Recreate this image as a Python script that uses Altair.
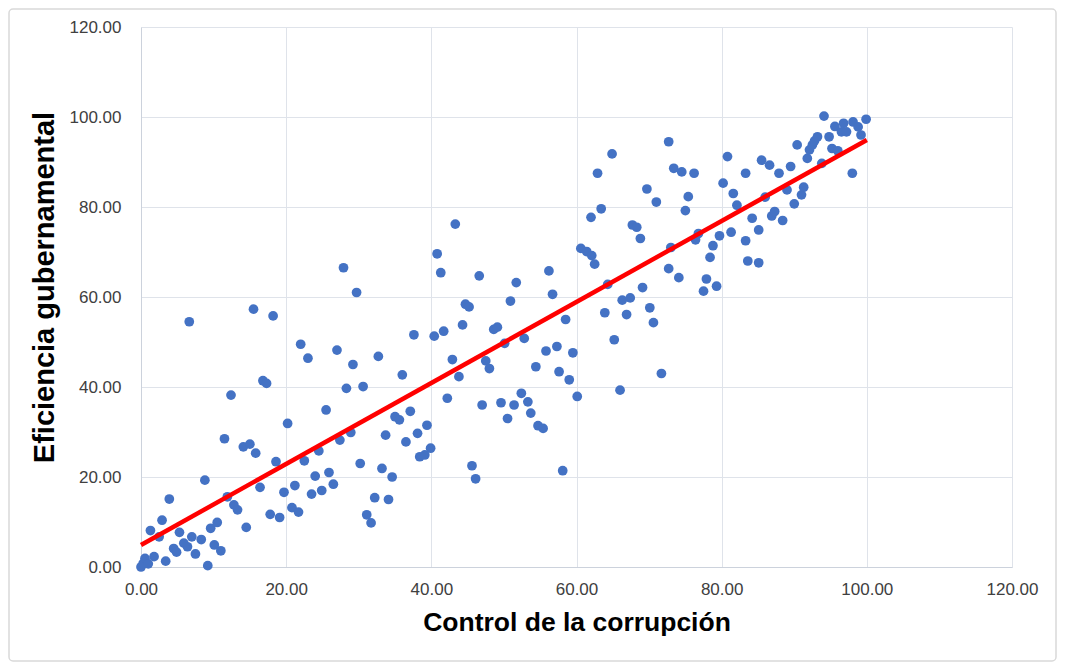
import altair as alt
import pandas as pd

# Control de la corrupción (x) and Eficiencia gubernamental (y)
x_vals = [
    0.0, 0.3, 0.55, 1.0, 1.8, 3.4, 1.3, 2.5, 2.9, 3.9, 4.5, 4.9, 5.3, 5.9, 6.4, 7.0, 7.5, 8.3, 8.8, 9.2,
    9.6, 10.5, 10.1, 11.0, 6.65, 11.5, 11.9, 12.4, 12.8, 13.3,
    14.1, 15.0, 14.5, 15.5, 15.8, 16.4, 16.8, 17.3, 17.8, 18.2, 18.6, 19.1, 19.7, 20.2, 20.8, 21.2, 21.7,
    22.0, 22.5, 23.0, 23.5, 24.0, 24.5, 24.9, 25.5, 25.9, 26.5,
    27.0, 27.4, 27.9, 28.3, 28.9, 29.2, 29.7, 30.2, 30.6, 31.1, 31.7, 32.2, 32.7, 33.2, 33.7, 34.1, 34.6,
    35.0, 35.6, 36.0, 36.5, 37.1, 37.6, 38.1, 38.4, 39.1, 39.4, 39.9, 40.4,
    40.8, 41.3, 41.7, 42.2, 42.9, 43.3, 43.8, 44.3, 44.7, 45.2, 45.6, 46.1, 46.6, 47.0, 47.5, 48.0, 48.6,
    49.1, 49.6, 50.1, 50.5, 50.9,
    51.4, 51.7, 52.4, 52.8, 53.3, 53.7, 54.4, 54.7, 55.4, 55.8, 56.2, 56.7, 57.3, 57.6, 58.1, 58.5, 59.0,
    59.5, 60.1, 60.6,
    61.4, 62.0, 62.1, 62.5, 62.9, 63.4, 63.9, 64.3, 64.9, 65.2, 66.0, 66.3, 66.9, 67.4, 67.7, 68.3, 68.8,
    69.1, 69.7, 70.1, 70.6,
    71.0, 71.7, 72.7, 72.7, 73.0, 73.4, 74.1, 74.5, 75.0, 75.4, 76.2, 76.4, 76.8, 77.5, 77.9, 78.4, 78.8,
    79.3, 79.7, 80.2,
    80.8, 81.3, 81.6, 82.1, 83.3, 83.3, 83.6, 84.2, 85.1, 85.1, 85.5, 86.0, 86.6, 86.9, 87.3, 87.9, 88.4,
    89.0, 89.5, 90.0,
    90.4, 91.0, 91.3, 91.8, 92.1, 92.5, 92.8, 93.2, 93.8, 94.1, 94.8, 95.2, 95.6, 96.0, 96.5, 96.8, 97.2,
    98.0, 98.1, 98.8, 99.2, 99.9,
]
y_vals = [
    0.0, 0.8, 1.9, 0.7, 2.3, 1.3, 8.1, 6.7, 10.4, 15.1, 4.1, 3.3, 7.7, 5.3, 4.5, 6.7, 2.9, 6.1, 19.3, 0.3,
    8.6, 9.9, 4.9, 3.6, 54.5, 28.5, 15.6, 38.2, 13.8, 12.7,
    26.7, 27.3, 8.8, 57.3, 25.3, 17.7, 41.4, 40.8, 11.7, 55.8, 23.4, 11.0, 16.6, 31.9, 13.2, 18.1, 12.2,
    49.5, 23.6, 46.4, 16.2, 20.2, 25.8, 17.0, 34.9, 21.0, 18.4,
    48.2, 28.2, 66.5, 39.7, 29.9, 45.0, 61.0, 23.0, 40.1, 11.6, 9.8, 15.4, 46.8, 21.9, 29.3, 15.0, 20.0,
    33.4, 32.7, 42.7, 27.8, 34.6, 51.6, 29.7, 24.5, 24.9, 31.5, 26.4, 51.3,
    69.6, 65.4, 52.4, 37.5, 46.1, 76.2, 42.3, 53.8, 58.4, 57.8, 22.5, 19.6, 64.7, 36.0, 45.8, 44.1, 52.8,
    53.3, 36.5, 49.7, 33.0, 59.1,
    36.0, 63.2, 38.6, 50.8, 36.7, 34.2, 44.5, 31.4, 30.8, 48.0, 65.8, 60.6, 49.0, 43.4, 21.4, 55.0, 41.6,
    47.6, 37.9, 70.8,
    70.1, 77.7, 69.2, 67.3, 87.5, 79.6, 56.5, 62.8, 91.8, 50.5, 39.3, 59.3, 56.1, 59.8, 76.0, 75.5, 73.0,
    62.1, 84.0, 57.6, 54.3,
    81.1, 43.0, 94.5, 66.3, 71.0, 88.6, 64.3, 87.8, 79.2, 82.3, 87.5, 72.7, 74.1, 61.3, 64.0, 68.8, 71.4,
    62.4, 73.6, 85.3,
    91.2, 74.4, 83.0, 80.4, 87.5, 72.5, 68.0, 77.5, 74.9, 67.6, 90.4, 82.2, 89.3, 78.0, 79.0, 87.5, 77.0,
    83.8, 89.0, 80.7,
    93.8, 82.7, 84.4, 90.8, 92.7, 93.8, 94.7, 95.6, 89.7, 100.2, 95.6, 93.0, 97.9, 92.5, 96.7, 98.6, 96.7,
    87.5, 98.9, 97.8, 96.0, 99.5,
]

# Trend line end points
trend_x = [0.0, 100.0]
trend_y = [4.9, 94.9]

tick_values = [0, 20, 40, 60, 80, 100, 120]

points = pd.DataFrame({"x": x_vals, "y": y_vals})
trend = pd.DataFrame({"x": trend_x, "y": trend_y})

FONT = "Liberation Sans"
GRID = "#dfe3ea"

x_scale = alt.Scale(domain=[0, 120], nice=False, zero=False)
y_scale = alt.Scale(domain=[0, 120], nice=False, zero=False)

x_axis = alt.Axis(
    title="Control de la corrupción",
    values=tick_values,
    format=".2f",
    ticks=False,
    labelFlush=False,
    labelPadding=14,
    labelFontSize=17,
    labelColor="#404040",
    labelFont=FONT,
    titleFont=FONT,
    titleFontSize=26.5,
    titleFontWeight="bold",
    titleColor="#000000",
    titlePadding=12,
    grid=True,
    gridColor=GRID,
    domainColor="#ccd2dc",
)
y_axis = alt.Axis(
    title="Eficiencia gubernamental",
    values=tick_values,
    format=".2f",
    ticks=False,
    labelFlush=False,
    labelPadding=20,
    labelFontSize=17,
    labelColor="#404040",
    labelFont=FONT,
    titleFont=FONT,
    titleFontSize=29,
    titleFontWeight="bold",
    titleColor="#000000",
    titlePadding=10,
    titleY=260,
    grid=True,
    gridColor=GRID,
    domainColor="#ccd2dc",
)

frame = alt.Chart(pd.DataFrame({"a": [0]})).mark_rect(
    fill=None, stroke="#d9d9d9", strokeWidth=1.5, cornerRadius=4
).encode(
    x=alt.value(-132), x2=alt.value(871 + 44),
    y=alt.value(-18), y2=alt.value(540 + 94),
)

scatter = alt.Chart(points).mark_circle(size=95, color="#4472C4", opacity=1).encode(
    x=alt.X("x:Q", scale=x_scale, axis=x_axis),
    y=alt.Y("y:Q", scale=y_scale, axis=y_axis),
)

line = alt.Chart(trend).mark_line(color="#ff0000", strokeWidth=4.5).encode(
    x=alt.X("x:Q", scale=x_scale),
    y=alt.Y("y:Q", scale=y_scale),
)

chart = alt.layer(frame, scatter, line).properties(
    width=871,
    height=540,
    padding={"left": 133, "top": 19, "right": 45, "bottom": 95},
    autosize=alt.AutoSizeParams(type="none"),
    background="white",
).configure_view(stroke=None)

chart.save("out.html", embed_options={"renderer": "svg", "actions": False})
